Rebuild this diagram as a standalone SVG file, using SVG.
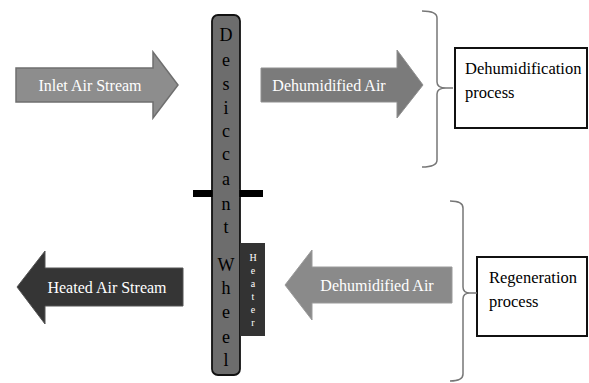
<svg xmlns="http://www.w3.org/2000/svg" width="589" height="383" viewBox="0 0 589 383">
<style>
.w{font-family:'Liberation Serif','Times New Roman','DejaVu Serif',serif;fill:#fff}
.k{font-family:'Liberation Serif','Times New Roman','DejaVu Serif',serif;fill:#000}
.brace{fill:none;stroke:#777;stroke-width:1.5}
.box{fill:#fff;stroke:#111;stroke-width:2}
</style>
<rect width="589" height="383" fill="#fff"/>
<g id="inlet">
<polygon points="16,68 153,68 153,52 178,85 153,118 153,102 16,102" fill="#8d8d8d" stroke="#6f6f6f" stroke-width="1.5"/>
<text class="w" x="90" y="91" font-size="16" text-anchor="middle" font-family="Liberation Serif, serif">Inlet Air Stream</text>
</g>
<g id="wheel">
<rect x="212" y="15" width="28" height="360" rx="6" fill="#6d6d6d" stroke="#111" stroke-width="1.8"/>
<rect x="193" y="190" width="70" height="7" fill="#000"/>
<rect x="212.9" y="189" width="26.2" height="9" fill="#6d6d6d"/>
<g class="k" font-size="18" text-anchor="middle" font-family="Liberation Serif, serif">
<text x="226" y="41">D</text>
<text x="226" y="66">e</text>
<text x="226" y="90">s</text>
<text x="226" y="114">i</text>
<text x="226" y="137">c</text>
<text x="226" y="160">c</text>
<text x="226" y="185">a</text>
<text x="226" y="210">n</text>
<text x="226" y="233">t</text>
<text x="226" y="271">W</text>
<text x="226" y="294">h</text>
<text x="226" y="318">e</text>
<text x="226" y="343">e</text>
<text x="226" y="366">l</text>
</g>
</g>
<g id="heater">
<rect x="240" y="243" width="25" height="93" fill="#333"/>
<g class="w" font-size="10" text-anchor="middle" font-family="Liberation Serif, serif">
<text x="253" y="261">H</text>
<text x="253" y="274">e</text>
<text x="253" y="287">a</text>
<text x="253" y="300">t</text>
<text x="253" y="313">e</text>
<text x="253" y="326">r</text>
</g>
</g>
<g id="dehum-top">
<polygon points="261,68 397,68 397,50 423,85 397,118 397,102 261,102" fill="#7b7b7b" stroke="#8f8f8f" stroke-width="1"/>
<text class="w" x="329" y="91" font-size="16" text-anchor="middle" font-family="Liberation Serif, serif">Dehumidified Air</text>
</g>
<g id="heated">
<polygon points="183,268 45,268 45,251 17,287 45,324 45,306 183,306" fill="#353535" stroke="#555" stroke-width="1"/>
<text class="w" x="107" y="293" font-size="16" text-anchor="middle" font-family="Liberation Serif, serif">Heated Air Stream</text>
</g>
<g id="dehum-bottom">
<polygon points="452,267 312,267 312,250 285,285 312,320 312,303 452,303" fill="#8a8a8a" stroke="#9a9a9a" stroke-width="1"/>
<text class="w" x="377" y="291" font-size="16" text-anchor="middle" font-family="Liberation Serif, serif">Dehumidified Air</text>
</g>
<g id="dehum-process">
<rect class="box" x="455" y="48" width="132" height="80"/>
<text class="k" x="465" y="74" font-size="16.5" font-family="Liberation Serif, serif">Dehumidification</text>
<text class="k" x="465" y="98" font-size="16.5" font-family="Liberation Serif, serif">process</text>
</g>
<g id="regen-process">
<rect class="box" x="477" y="257" width="110" height="79"/>
<text class="k" x="489" y="283" font-size="16.5" font-family="Liberation Serif, serif">Regeneration</text>
<text class="k" x="489" y="307" font-size="16.5" font-family="Liberation Serif, serif">process</text>
</g>
<g id="connectors">
<path class="brace" d="M422,11 Q437,11 437,18 L437,82 Q437,88 446,88 L453,88 M446,88 Q437,88 437,94 L437,160 Q437,167 422,167"/>
<path class="brace" d="M450,201 Q463,201 463,208 L463,287 Q463,293 470,293 L477,293 M470,293 Q463,293 463,299 L463,374 Q463,381 450,381"/>
</g>
</svg>
